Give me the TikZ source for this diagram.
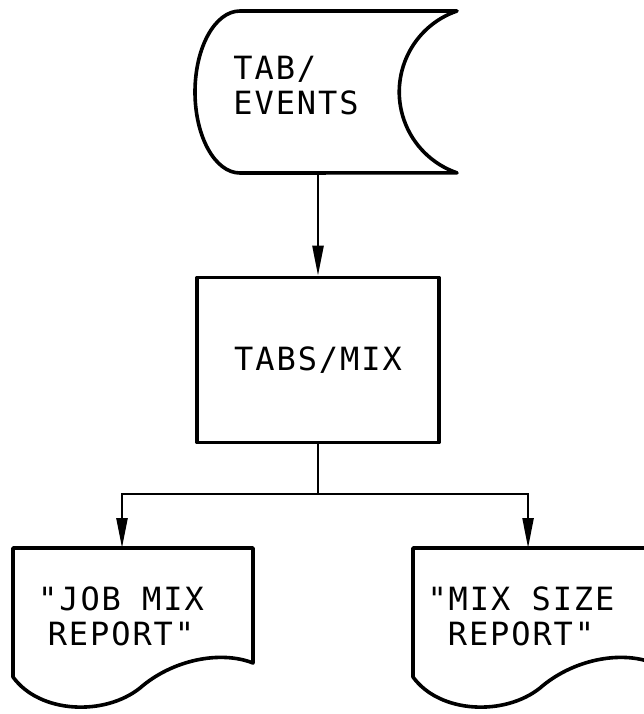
\documentclass[tikz,border=0pt]{standalone}
\usepackage{fontspec}
\usetikzlibrary{arrows.meta}
\newfontfamily\tapefont[LetterSpace=6]{DejaVu Sans Mono}
\tikzset{
  flow/.style={line width=3.6pt, line join=round},
  label/.style={font=\tapefont\fontsize{32}{35}\selectfont, inner sep=0pt},
  link/.style={line width=2.4pt, -{Triangle[length=30pt,width=11pt]}}
}
\begin{document}
\begin{tikzpicture}[x=1pt, y=-1pt]
			\useasboundingbox (0,0) rectangle (644,714);
			%stored data
			\draw[flow] (240,11) -- (457,11) arc[start angle=251, end angle=109, radius=85.6]
				-- (240,173) arc[start angle=90, end angle=270, x radius=45, y radius=81] -- cycle;
			\node[label, align=left] (tab) at (296,86){TAB/\\EVENTS};
			\coordinate (tabout) at (318,173);
			
			%process
			\node[flow, draw, minimum width=242pt, minimum height=165pt, label] (mix) at (318,360){TABS/MIX};
			
			%reports
			\foreach \dx/\name in {0/job, 400/size}{
				\draw[flow] (13+\dx,548) -- (253+\dx,548) -- (253+\dx,663)
					.. controls (220+\dx,650) and (172+\dx,660) .. (140+\dx,688)
					.. controls (105+\dx,716) and (40+\dx,714) .. (13+\dx,677) -- cycle;
				\coordinate (\name top) at (122+\dx+\dx/66,548);
			}
			\node[label, align=center] (job) at (121,616){"JOB MIX\\REPORT"};
			\node[label, align=center] (size) at (521,616){"MIX SIZE\\REPORT"};
			
			%connectors
			\coordinate (split) at (318,494);
			\draw[link] (tabout) -- (mix.north);
			\draw[line width=2.4pt] (mix.south) -- (split);
			\draw[link] (split) -| (jobtop);
			\draw[link] (split) -| (sizetop);
\end{tikzpicture}
\end{document}
